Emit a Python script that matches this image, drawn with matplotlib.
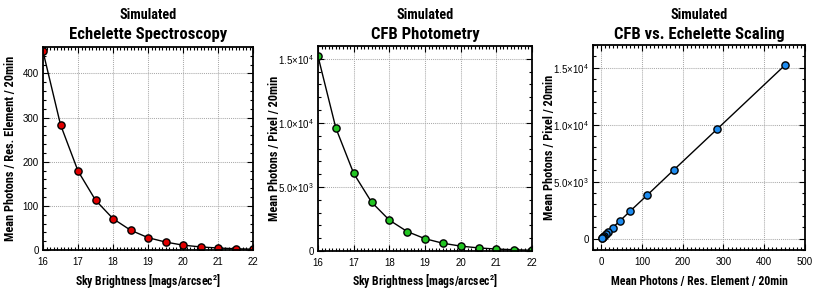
import matplotlib
matplotlib.use("Agg")
import matplotlib.pyplot as plt
from matplotlib.ticker import MultipleLocator, FuncFormatter

plt.rcParams['font.family'] = ['Roboto Condensed', 'DejaVu Sans']
plt.rcParams['mathtext.fontset'] = 'custom'
plt.rcParams['mathtext.rm'] = 'Liberation Sans'
plt.rcParams['mathtext.it'] = 'Liberation Sans'
plt.rcParams['mathtext.bf'] = 'Roboto Condensed:bold'

sky_mag = [16.0, 16.5, 17.0, 17.5, 18.0, 18.5, 19.0, 19.5, 20.0, 20.5, 21.0, 21.5, 22.0]
echelle_photons = [450, 284, 179, 113, 71, 45, 28, 18, 11, 7, 4.5, 2.8, 1.8]
cfb_photons = [15200, 9600, 6060, 3820, 2410, 1520, 960, 606, 382, 241, 152, 96, 61]

titles = [("Simulated", "Echelette Spectroscopy"),
          ("Simulated", "CFB Photometry"),
          ("Simulated", "CFB vs. Echelette Scaling")]
xlabels = ["Sky Brightness [mags/arcsec$^{\\mathbf{2}}$]",
           "Sky Brightness [mags/arcsec$^{\\mathbf{2}}$]",
           "Mean Photons / Res. Element / 20min"]
ylabels = ["Mean Photons / Res. Element / 20min",
           "Mean Photons / Pixel / 20min",
           "Mean Photons / Pixel / 20min"]

W, H = 830, 294
fig = plt.figure(figsize=(W / 100, H / 100), dpi=100)

boxes = [(43, 253, 47, 250), (318, 532, 46, 251), (593, 805, 45, 250)]
ylabel_x = [10, 274, 549]
axes = []
for (x0, x1, y0, y1) in boxes:
    ax = fig.add_axes([x0 / W, 1 - y1 / H, (x1 - x0) / W, (y1 - y0) / H])
    axes.append(ax)


def sci_fmt(v, pos):
    if v == 0:
        return "0"
    exp = 0
    m = abs(v)
    while m >= 10:
        m /= 10
        exp += 1
    return r"$%.1f{\times}10^{%d}$" % (v / 10 ** exp, exp)


def style(ax):
    ax.tick_params(which='both', direction='in', top=True, right=True, labelsize=7, pad=3)
    ax.tick_params(axis='x', which='major', pad=5)
    ax.tick_params(which='major', length=4, width=0.8)
    ax.tick_params(which='minor', length=2.5, width=0.8)
    for lab in ax.get_xticklabels() + ax.get_yticklabels():
        lab.set_family(['Liberation Sans', 'DejaVu Sans'])
    for s in ax.spines.values():
        s.set_linewidth(1.3)
    ax.grid(True, which='major', linestyle=(0, (1, 1)), color='#aaaaaa', linewidth=0.75)
    ax.set_axisbelow(True)


mk = dict(marker='o', markersize=5.2, markeredgecolor='black', markeredgewidth=1.0,
          color='black', linewidth=1.0)

ax = axes[0]
ax.plot(sky_mag, echelle_photons, markerfacecolor='#e00000', **mk)
ax.set_xlim(16, 22)
ax.set_ylim(0, 460)
ax.xaxis.set_major_locator(MultipleLocator(1))
ax.xaxis.set_minor_locator(MultipleLocator(0.1))
ax.yaxis.set_major_locator(MultipleLocator(100))
ax.yaxis.set_minor_locator(MultipleLocator(20))

ax = axes[1]
ax.plot(sky_mag, cfb_photons, markerfacecolor='#22c422', **mk)
ax.set_xlim(16, 22)
ax.set_ylim(0, 16000)
ax.xaxis.set_major_locator(MultipleLocator(1))
ax.xaxis.set_minor_locator(MultipleLocator(0.1))
ax.yaxis.set_major_locator(MultipleLocator(5000))
ax.yaxis.set_minor_locator(MultipleLocator(1000))
ax.yaxis.set_major_formatter(FuncFormatter(sci_fmt))

ax = axes[2]
ax.plot(echelle_photons, cfb_photons, markerfacecolor='#1e8cf0', **mk)
ax.set_xlim(-20, 500)
ax.set_ylim(-1000, 17000)
ax.xaxis.set_major_locator(MultipleLocator(100))
ax.xaxis.set_minor_locator(MultipleLocator(10))
ax.yaxis.set_major_locator(MultipleLocator(5000))
ax.yaxis.set_minor_locator(MultipleLocator(1000))
ax.yaxis.set_major_formatter(FuncFormatter(sci_fmt))

for ax, (x0, x1, y0, y1), yx, (t1, t2), xl, yl in zip(axes, boxes, ylabel_x, titles, xlabels, ylabels):
    style(ax)
    w = x1 - x0
    h = y1 - y0
    ax.set_xlabel(xl, fontsize=8.5, fontweight='bold')
    ax.set_ylabel(yl, fontsize=8.8, fontweight='bold')
    ax.xaxis.set_label_coords(0.5, -(282 - y1) / h)
    ax.yaxis.set_label_coords((yx - x0) / w, 0.5)
    ax.xaxis.label.set_va('center')
    ax.yaxis.label.set_va('center')
    ax.text(0.5, (y1 - 15) / h, t1, transform=ax.transAxes, ha='center', va='center',
            fontsize=10.3, fontweight='bold')
    ax.text(0.5, (y1 - 34) / h, t2, transform=ax.transAxes, ha='center', va='center',
            fontsize=12, fontweight='bold')

fig.savefig("out.png", dpi=100)
